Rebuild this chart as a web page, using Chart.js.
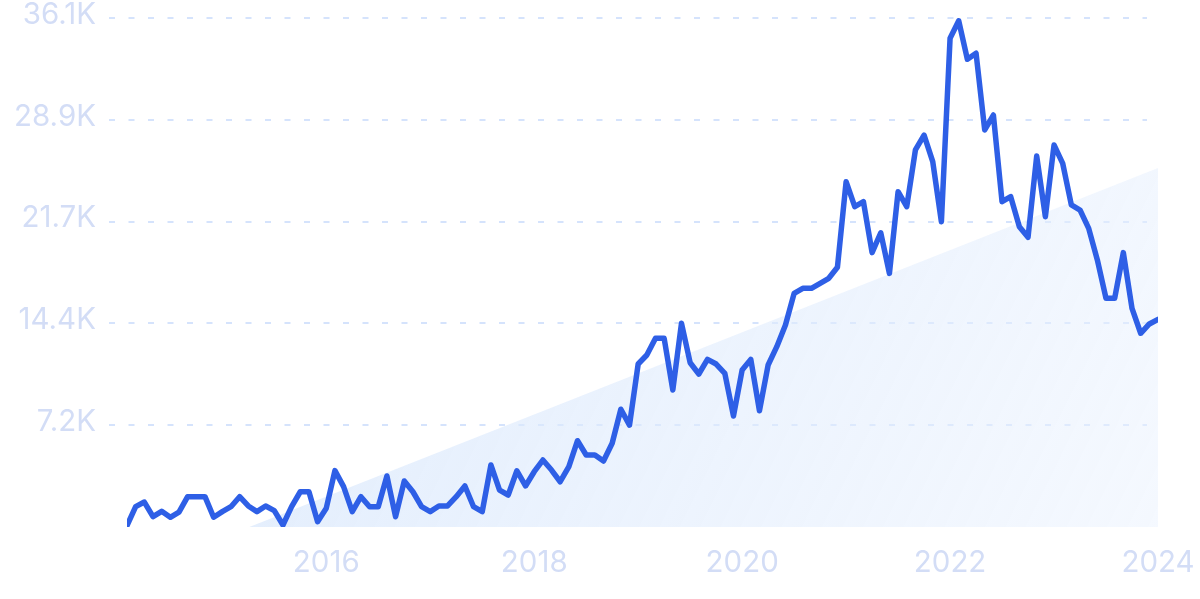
<!DOCTYPE html>
<html>
<head>
<meta charset="utf-8">
<script src="https://cdn.jsdelivr.net/npm/chart.js@4"></script>
<style>
  html, body { margin: 0; padding: 0; background: #fff; }
  #wrap { width: 1200px; height: 599px; position: relative; }
</style>
</head>
<body>
<div id="wrap"><canvas id="trendChart"></canvas></div>
<script>
// monthly values, Feb 2014 .. Jan 2024
const startYear = 2014;
const startMonth = 2;
const searches = [
    100, 1440, 1770, 730, 1110, 690, 1060, 2150, 2150, 2150, 690, 1090,
    1440, 2150, 1490, 1090, 1490, 1160, 140, 1440, 2500, 2500, 380, 1330,
    4000, 2860, 1090, 2150, 1440, 1440, 3620, 730, 3260, 2500, 1440, 1090,
    1490, 1490, 2150, 2910, 1440, 1090, 4400, 2620, 2270, 3990, 2910, 3920,
    4750, 4040, 3210, 4280, 6120, 5110, 5110, 4680, 5940, 8350, 7230, 11560,
    12200, 13380, 13380, 9720, 14450, 11650, 10850, 11890, 11560, 10900, 7870, 11130,
    11890, 8240, 11490, 12790, 14330, 16570, 16930, 16930, 17280, 17640, 18420, 24490,
    22720, 23070, 19460, 20870, 17990, 23780, 22720, 26740, 27800, 25910, 21650, 34660,
    35900, 33170, 33600, 28160, 29220, 23070, 23430, 21300, 20550, 26310, 22010, 27090,
    25790, 22840, 22480, 21180, 18940, 16220, 16220, 19460, 15510, 13740, 14400, 14730
];

// growth trend (start and end of the shaded wedge)
const trendYears = [2015.26, 2024];
const trendValues = [0, 25460];

const yTickValues = [7220, 14440, 21660, 28880, 36100];
const yTickLabels = ['7.2K', '14.4K', '21.7K', '28.9K', '36.1K'];
const xTickYears = [2016, 2018, 2020, 2022, 2024];

const points = searches.map((v, i) => ({ x: startYear + (startMonth - 1 + i) / 12, y: v }));
const trend = trendYears.map((yr, i) => ({ x: yr, y: trendValues[i] }));

const labelColor = '#d3ddf6';
const gridColor = '#d5e3fc';
const FONT = 'Inter, "Noto Sans", sans-serif';

// dashed grid lines, drawn behind the datasets
const dashedGrid = {
    id: 'dashedGrid',
    beforeDatasetsDraw(chart) {
        const ctx = chart.ctx;
        const y = chart.scales.y;
        ctx.save();
        ctx.strokeStyle = gridColor;
        ctx.lineWidth = 2;
        ctx.setLineDash([6, 13.5]);
        yTickValues.forEach(v => {
            const py = Math.round(y.getPixelForValue(v));
            ctx.beginPath();
            ctx.moveTo(109, py);
            ctx.lineTo(1147, py);
            ctx.stroke();
        });
        ctx.restore();
    }
};

function trendFill(context) {
    const area = context.chart.chartArea;
    if (!area) return 'rgba(220,233,252,0.6)';
    const g = context.chart.ctx.createLinearGradient(area.left, area.top, area.right, area.bottom);
    g.addColorStop(0, 'rgba(208,226,251,0.75)');
    g.addColorStop(1, 'rgba(234,242,254,0.5)');
    return g;
}

new Chart(document.getElementById('trendChart'), {
    type: 'line',
    data: {
        datasets: [
            {
                label: 'Searches',
                data: points,
                borderColor: '#2e5fe6',
                borderWidth: 5.5,
                borderJoinStyle: 'round',
                borderCapStyle: 'round',
                pointRadius: 0,
                tension: 0,
                fill: false,
                order: 1
            },
            {
                label: 'Trend',
                data: trend,
                borderWidth: 0,
                pointRadius: 0,
                backgroundColor: trendFill,
                fill: 'origin',
                order: 2
            }
        ]
    },
    options: {
        responsive: true,
        maintainAspectRatio: false,
        animation: false,
        layout: { autoPadding: false, padding: { left: 0, right: 42, top: 18, bottom: 0 } },
        plugins: {
            legend: { display: false },
            tooltip: { enabled: false }
        },
        scales: {
            x: {
                type: 'linear',
                min: startYear + (startMonth - 1) / 12,
                max: 2024,
                grid: { display: false, drawTicks: false },
                border: { display: false },
                afterBuildTicks: scale => { scale.ticks = xTickYears.map(v => ({ value: v })); },
                afterFit: scale => {
                    scale.height = 72;
                    scale.paddingLeft = 0;
                    scale.paddingRight = 0;
                },
                ticks: {
                    padding: 18,
                    color: labelColor,
                    font: { family: FONT, size: 29.5 },
                    callback: v => String(v),
                    maxRotation: 0
                }
            },
            y: {
                min: 0,
                max: 36100,
                grid: { display: false, drawTicks: false },
                border: { display: false },
                afterBuildTicks: scale => { scale.ticks = yTickValues.map(v => ({ value: v })); },
                afterFit: scale => {
                    scale.width = 127;
                    scale.paddingTop = 0;
                    scale.paddingBottom = 0;
                },
                ticks: {
                    padding: 31,
                    labelOffset: -3,
                    color: labelColor,
                    font: { family: FONT, size: 29.5 },
                    callback: (v, i) => yTickLabels[i]
                }
            }
        }
    },
    plugins: [dashedGrid]
});
</script>
</body>
</html>
